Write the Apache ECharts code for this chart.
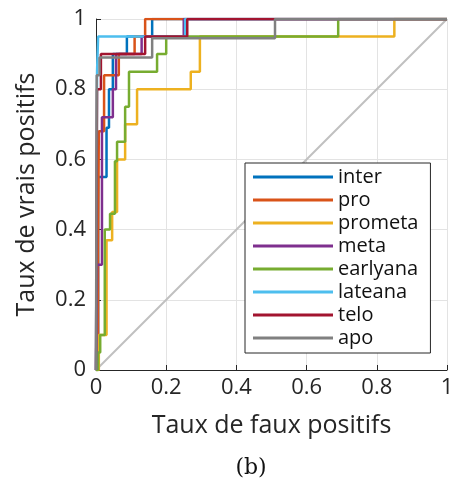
<!DOCTYPE html>
<html><head><meta charset="utf-8">
<script src="https://cdn.jsdelivr.net/npm/echarts@6/dist/echarts.min.js"></script>
<style>html,body{margin:0;padding:0;background:#fff}#c{width:451px;height:493px}</style>
</head><body><div id="c"></div>
<script>
const xTicks = [0, 0.2, 0.4, 0.6, 0.8, 1];
const yTicks = [0, 0.2, 0.4, 0.6, 0.8, 1];
const seriesNames = ["inter","pro","prometa","meta","earlyana","lateana","telo","apo"];
const seriesColors = ["#0072BD","#D95319","#EDB120","#7E2F8E","#77AC30","#4DBEEE","#A2142F","#808080"];
// ROC curves: [FPR, TPR]
const inter = [[0,0],[0.006,0],[0.006,0.55],[0.03,0.55],[0.03,0.69],[0.037,0.69],[0.037,0.8],[0.048,0.8],[0.048,0.9],[0.088,0.9],[0.088,0.95],[0.16,0.95],[0.16,1],[1,1]];
const pro = [[0,0],[0.006,0],[0.006,0.35],[0.008,0.35],[0.008,0.68],[0.023,0.68],[0.023,0.84],[0.065,0.84],[0.065,0.9],[0.11,0.9],[0.11,0.95],[0.14,0.95],[0.14,1],[1,1]];
const prometa = [[0,0],[0.008,0],[0.008,0.1],[0.03,0.1],[0.03,0.37],[0.046,0.37],[0.046,0.45],[0.06,0.45],[0.06,0.6],[0.083,0.6],[0.083,0.7],[0.117,0.7],[0.117,0.8],[0.27,0.8],[0.27,0.85],[0.296,0.85],[0.296,0.95],[0.85,0.95],[0.85,1],[1,1]];
const meta = [[0,0],[0.003,0],[0.003,0.3],[0.017,0.3],[0.017,0.72],[0.048,0.72],[0.048,0.8],[0.057,0.8],[0.057,0.9],[0.13,0.9],[0.13,0.95],[0.25,0.95],[0.25,1],[1,1]];
const earlyana = [[0,0],[0.006,0],[0.006,0.05],[0.012,0.05],[0.012,0.1],[0.025,0.1],[0.025,0.4],[0.04,0.4],[0.04,0.445],[0.054,0.445],[0.054,0.595],[0.06,0.595],[0.06,0.65],[0.083,0.65],[0.083,0.75],[0.094,0.75],[0.094,0.85],[0.174,0.85],[0.174,0.9],[0.2,0.9],[0.2,0.95],[0.69,0.95],[0.69,1],[1,1]];
const lateana = [[0,0],[0.003,0],[0.003,0.85],[0.006,0.85],[0.006,0.95],[0.254,0.95],[0.254,1],[1,1]];
const telo = [[0,0],[0.003,0],[0.003,0.8],[0.014,0.8],[0.014,0.9],[0.14,0.9],[0.14,0.95],[0.26,0.95],[0.26,1],[1,1]];
const apo = [[0,0],[0.002,0],[0.002,0.84],[0.01,0.84],[0.01,0.89],[0.16,0.89],[0.16,0.945],[0.51,0.945],[0.51,1],[1,1]];
const diagonal = [[0,0],[1,1]];
const curves = [inter, pro, prometa, meta, earlyana, lateana, telo, apo];

const chart = echarts.init(document.getElementById('c'), null, {renderer:'canvas'});
const font = "Open Sans";
const series = [{
  type:'line', data: diagonal, symbol:'none', silent:true,
  lineStyle:{color:'#c0c0c0', width:2}, z:1
}];
curves.forEach((d,i)=>series.push({
  name: seriesNames[i], type:'line', data:d, symbol:'none',
  lineStyle:{color:seriesColors[i], width:2.5}, itemStyle:{color:seriesColors[i]}, z:2+i
}));
chart.setOption({
  animation:false,
  backgroundColor:'#fff',
  grid:{left:96, right:4, top:19, bottom:123, outerBoundsMode:'none', containLabel:false},
  xAxis:{type:'value', min:0, max:1, interval:0.2,
    name:'Taux de faux positifs', nameLocation:'middle', nameGap:43,
    nameTextStyle:{fontFamily:font, fontSize:25, color:'#262626'},
    axisLine:{show:true, lineStyle:{color:'#262626', width:1}},
    axisTick:{show:true, inside:true, length:5, lineStyle:{color:'#262626'}},
    axisLabel:{fontFamily:font, fontSize:22, color:'#262626', margin:7,
      formatter:v=>{const t=xTicks.find(x=>Math.abs(x-v)<1e-9);return t===undefined?'':String(t);}},
    splitLine:{show:true, lineStyle:{color:'#e3e3e3', width:1}}
  },
  yAxis:{type:'value', min:0, max:1, interval:0.2,
    name:'Taux de vrais positifs', nameLocation:'middle', nameGap:57,
    nameTextStyle:{fontFamily:font, fontSize:25, color:'#262626'},
    axisLine:{show:true, lineStyle:{color:'#262626', width:1}},
    axisTick:{show:true, inside:true, length:5, lineStyle:{color:'#262626'}},
    axisLabel:{fontFamily:font, fontSize:22, color:'#262626', margin:10,
      formatter:v=>{const t=yTicks.find(x=>Math.abs(x-v)<1e-9);return t===undefined?'':String(t);}},
    splitLine:{show:true, lineStyle:{color:'#e3e3e3', width:1}}
  },
  legend:{
    data: seriesNames.map(n=>({name:n, icon:'rect'})),
    orient:'vertical', left:245, top:163,
    itemWidth:80, itemHeight:3, itemGap:3,
    padding:[4,12,5,8],
    backgroundColor:'#fff', borderColor:'#262626', borderWidth:1,
    textStyle:{fontFamily:font, fontSize:20, color:'#111', lineHeight:20}
  },
  graphic:[{type:'text', x:251, y:468, style:{text:'(b)', font:'22px "DejaVu Serif"', fill:'#111', align:'center', verticalAlign:'middle'}}],
  series: series
});
</script></body></html>
